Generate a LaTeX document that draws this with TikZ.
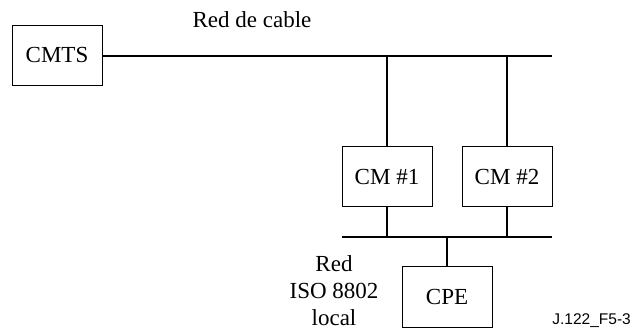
\documentclass[tikz,border=0pt]{standalone}
\usepackage{fontspec}
\setmainfont{Liberation Serif}
\newfontfamily\labelsans{Liberation Sans}
\begin{document}
\begin{tikzpicture}[x=1pt,y=-1pt,
  box/.style={draw,line width=1pt,minimum width=90pt,minimum height=60pt,inner sep=0pt,font=\fontsize{23}{27}\selectfont},
  bus/.style={line width=2pt},
  lbl/.style={inner sep=0pt,font=\fontsize{23}{27}\selectfont,align=center}]
\useasboundingbox (0,0) rectangle (632,331);
\node[box] (cmts) at (57,55.5) {CMTS};
\node[box] (cm1) at (387,176.5) {CM \#1};
\node[box] (cm2) at (507,176.5) {CM \#2};
\node[box] (cpe) at (447,297) {CPE};
\coordinate (busE) at (552,56);
\coordinate (lanS) at (342,237);
\coordinate (lanE) at (552,237);
\coordinate (t1) at (387,56);
\coordinate (t2) at (507,56);
\coordinate (d1) at (387,237);
\coordinate (d2) at (507,237);
\coordinate (d3) at (447,237);
\draw[bus] (cmts.east |- busE) -- (busE);
\draw[bus] (t1) -- (cm1.north);
\draw[bus] (t2) -- (cm2.north);
\draw[bus] (lanS) -- (lanE);
\draw[bus] (cm1.south) -- (d1);
\draw[bus] (cm2.south) -- (d2);
\draw[bus] (d3) -- (cpe.north);
\node[lbl] (cable) at (252,20) {Red de cable};
\node[lbl] (lan) at (334,291) {Red\\ISO 8802\\local};
\node[inner sep=0pt,anchor=east,font=\labelsans\fontsize{15.5}{18}\selectfont] (fig) at (631,321) {J.122\_F5-3};
\end{tikzpicture}
\end{document}
